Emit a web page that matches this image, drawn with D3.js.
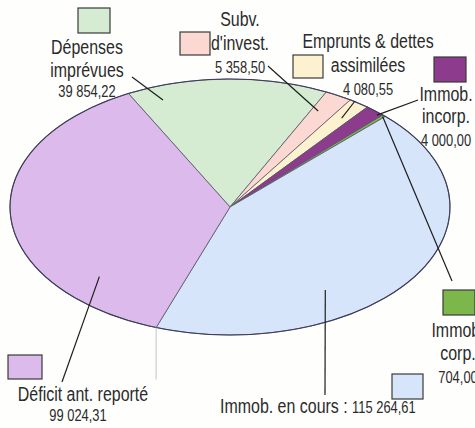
<!DOCTYPE html>
<html>
<head>
<meta charset="utf-8">
<script src="https://cdn.jsdelivr.net/npm/d3@7"></script>
<style>
  body { margin: 0; background: #fff; }
  text { font-family: "Liberation Sans", Arial, sans-serif; fill: #2b2b2b; }
</style>
</head>
<body>
<svg id="chart"></svg>
<script>
const width = 475, height = 428;

// Data
const categories = ["Dépenses imprévues", "Subv. d'invest.", "Emprunts & dettes assimilées",
    "Immob. incorp.", "Immob. corp.", "Immob. en cours", "Déficit ant. reporté"];
const values = [39854.22, 5358.50, 4080.55, 4000.00, 704.00, 115264.61, 99024.31];
const labelLines = [["Dépenses", "imprévues"], ["Subv.", "d'invest."], ["Emprunts & dettes", "assimilées"],
    ["Immob.", "incorp."], ["Immob.", "corp."], ["Immob. en cours :"], ["Déficit ant. reporté"]];
const colors = ["#d5ebd2", "#fbd8d2", "#fdf2d0", "#8d3b8d", "#7bb74a", "#d7e5fa", "#dcbaeb"];

// Ellipse geometry (flattened pie)
const cx = 230, cy = 207, rx = 220, ry = 128;
const startDeg = -27.5;
const labelSize = 21, numSize = 17;
const squeeze = 0.76; // condensed lettering

// Label layout: block centre x, baselines, legend swatch, leader (t = position in slice, r = radius fraction, end point)
const layout = [
    { x: 87, lines: [54, 77], num: 97, box: [78, 8, 32, 25], lead: { t: 0.14, r: 0.89, x: 132, y: 77 } },
    { x: 240, lines: [26, 50], num: 73, box: [180, 32, 30, 23], lead: { t: 0.3, r: 0.85, x: 268, y: 66 } },
    { x: 368, lines: [48, 72], num: 95, box: [293, 55, 30, 23], lead: { t: 0.55, r: 0.86, x: 355, y: 101 } },
    { x: 446, lines: [101, 123], num: 146, box: [434, 57, 32, 25], lead: { t: 0.8, r: 0.98, x: 418, y: 100 } },
    { x: 458, lines: [337, 360], num: 383, box: [443, 290, 32, 25], lead: { t: 0.5, r: 0.99, x: 452, y: 281 } },
    { x: 220, lines: [413], num: null, box: [392, 374, 31, 25], lead: { t: 0.655, r: 0.78, x: 325, y: 395 } },
    { x: 83, lines: [401], num: 421, box: [8, 355, 34, 24], lead: { t: 0.21, r: 0.805, x: 62, y: 382 } }
];

const fmt = d3.formatLocale({ decimal: ",", thousands: " ", grouping: [3], currency: ["", ""] }).format(",.2f");

const svg = d3.select("#chart")
    .attr("width", width)
    .attr("height", height)
    .attr("viewBox", [0, 0, width, height]);

svg.append("rect").attr("width", width).attr("height", height).attr("fill", "#fefefd");

const pie = d3.pie()
    .sort(null)
    .value(d => d)
    .startAngle(startDeg * Math.PI / 180)
    .endAngle(startDeg * Math.PI / 180 + 2 * Math.PI);

const arcs = pie(values);
const arc = d3.arc().innerRadius(0).outerRadius(ry);

// Pie drawn on a circle, then stretched horizontally into the ellipse
const pieG = svg.append("g")
    .attr("transform", `translate(${cx},${cy}) scale(${rx / ry},1)`);

pieG.selectAll("path")
    .data(arcs)
    .enter()
    .append("path")
    .attr("d", arc)
    .attr("fill", (d, i) => colors[i])
    .attr("stroke", "#55556a")
    .attr("stroke-width", 0.8)
    .attr("vector-effect", "non-scaling-stroke");

pieG.append("ellipse")
    .attr("rx", ry).attr("ry", ry)
    .attr("fill", "none")
    .attr("stroke", "#3c3c5a")
    .attr("stroke-width", 1.1)
    .attr("vector-effect", "non-scaling-stroke");

// point on the ellipse for angle a (radians) and radius fraction r
function ellipsePoint(a, r) {
    return [cx + Math.sin(a) * r * rx, cy - Math.cos(a) * r * ry];
}

// faint depth line under the Déficit / Immob. en cours boundary
const edge = ellipsePoint(arcs[6].startAngle, 1);
svg.append("line")
    .attr("x1", edge[0]).attr("y1", edge[1])
    .attr("x2", edge[0]).attr("y2", edge[1] + 52)
    .attr("stroke", "#c4c4cc")
    .attr("stroke-width", 1);

// Leader lines
arcs.forEach((d, i) => {
    const L = layout[i].lead;
    const a = d.startAngle + L.t * (d.endAngle - d.startAngle);
    const p = ellipsePoint(a, L.r);
    svg.append("line")
        .attr("x1", p[0]).attr("y1", p[1])
        .attr("x2", L.x).attr("y2", L.y)
        .attr("stroke", "#1e1e1e")
        .attr("stroke-width", 1.2);
});

// Legend swatches
svg.append("g").selectAll("rect")
    .data(layout)
    .enter()
    .append("rect")
    .attr("x", d => d.box[0]).attr("y", d => d.box[1])
    .attr("width", d => d.box[2]).attr("height", d => d.box[3])
    .attr("fill", (d, i) => colors[i])
    .attr("stroke", "#3a3a3a")
    .attr("stroke-width", 1.2);

// Labels
const labelG = svg.append("g");
function addText(x, y, size, anchor) {
    return labelG.append("text")
        .attr("transform", `translate(${x},${y}) scale(${squeeze},1)`)
        .attr("text-anchor", anchor)
        .attr("font-size", size);
}

layout.forEach((L, i) => {
    if (i === 5) {
        // single line label with value appended
        const t = addText(L.x, L.lines[0], labelSize, "start");
        t.append("tspan").text(labelLines[i][0] + " ");
        t.append("tspan").attr("font-size", numSize).text(fmt(values[i]));
        return;
    }
    labelLines[i].forEach((s, j) => {
        addText(L.x, L.lines[j], labelSize, "middle").text(s);
    });
    addText(i === 6 ? 78 : L.x, L.num, numSize, "middle").text(fmt(values[i]));
});
</script>
</body>
</html>
